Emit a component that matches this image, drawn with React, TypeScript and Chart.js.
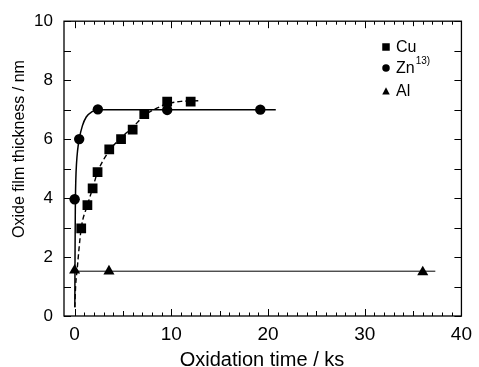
import React, { useEffect, useRef } from 'react';
import { Chart, registerables } from 'chart.js';

Chart.register(...registerables);

// Measured data (ks, nm)
const cuTime = [0.68, 1.32, 1.86, 2.37, 3.58, 4.8, 6.0, 7.2, 9.57, 12.0];
const cuThickness = [2.97, 3.76, 4.33, 4.88, 5.65, 6.0, 6.32, 6.85, 7.27, 7.27];
const znTime = [0, 0.47, 2.4, 9.57, 19.2];
const znThickness = [3.96, 6.0, 7.01, 6.99, 7.0];
const alTime = [0, 3.55, 36.0];
const alThickness = [1.55, 1.52, 1.49];

// Hand-read fitted curves
const cuFitTime = [0.02, 0.1, 0.25, 0.68, 1.32, 1.86, 2.37, 3.58, 4.8, 6.0, 7.2, 8.5, 9.6, 11.0, 12.9];
const cuFitThickness = [0.3, 1.0, 1.55, 2.97, 3.76, 4.33, 4.88, 5.6, 6.05, 6.4, 6.8, 7.05, 7.2, 7.28, 7.3];
const znFitTime = [0.02, 0.04, 0.07, 0.12, 0.2, 0.3, 0.47, 0.8, 1.2, 1.8, 2.4, 20.8];
const znFitThickness = [0.3, 2.0, 3.6, 4.6, 5.2, 5.6, 6.0, 6.45, 6.75, 6.93, 7.0, 7.0];
const alFitTime = [0, 37.3];
const alFitThickness = [1.52, 1.52];

// Axis ticks
const xTickLabels = [0, 10, 20, 30, 40];
const yTickLabels = [0, 2, 4, 6, 8, 10];
const xTickMarks = Array.from({ length: 41 }, (_, i) => i);
const yTickMarks = Array.from({ length: 11 }, (_, i) => i);

const xTitle = 'Oxidation time / ks';
const yTitle = 'Oxide film thickness / nm';
const legendNames = ['Cu', 'Zn', 'Al'];
const legendSup = ['', '13)', ''];
const legendShapes = ['rect', 'circle', 'triangle'];

const FONT = '"Liberation Sans", Arial, Helvetica, sans-serif';

const toPts = (xs: number[], ys: number[]) => xs.map((x, i) => ({ x, y: ys[i] }));

function drawShape(ctx: CanvasRenderingContext2D, shape: string, x: number, y: number, s: number) {
  ctx.beginPath();
  if (shape === 'rect') {
    ctx.rect(x - s / 2, y - s / 2, s, s);
  } else if (shape === 'circle') {
    ctx.arc(x, y, s / 2, 0, Math.PI * 2);
  } else {
    const h = s * 0.9;
    ctx.moveTo(x, y - h / 2 - 0.5);
    ctx.lineTo(x + s / 2, y + h / 2);
    ctx.lineTo(x - s / 2, y + h / 2);
    ctx.closePath();
  }
  ctx.fill();
}

const framePlugin = {
  id: 'frameTicksLegend',
  afterDraw(chart: any) {
    const { ctx, chartArea: a, scales } = chart;
    const xs = scales.x;
    const ys = scales.y;
    ctx.save();
    ctx.strokeStyle = '#000';
    ctx.fillStyle = '#000';
    ctx.lineWidth = 1.3;
    ctx.strokeRect(a.left, a.top, a.right - a.left, a.bottom - a.top);
    ctx.lineWidth = 1;
    ctx.beginPath();
    for (const v of xTickMarks) {
      const px = Math.round(xs.getPixelForValue(v)) + 0.5;
      const len = v % 10 === 0 ? 7 : v % 5 === 0 ? 5 : 3.5;
      ctx.moveTo(px, a.bottom);
      ctx.lineTo(px, a.bottom - len);
      ctx.moveTo(px, a.top);
      ctx.lineTo(px, a.top + len);
    }
    for (const v of yTickMarks) {
      const py = Math.round(ys.getPixelForValue(v)) + 0.5;
      ctx.moveTo(a.left, py);
      ctx.lineTo(a.left + 7, py);
      ctx.moveTo(a.right, py);
      ctx.lineTo(a.right - 7, py);
    }
    ctx.stroke();

    // axis titles
    ctx.font = `20px ${FONT}`;
    ctx.textAlign = 'center';
    ctx.textBaseline = 'alphabetic';
    ctx.fillText(xTitle, 262, 366);
    ctx.save();
    ctx.translate(24, 149);
    ctx.rotate(-Math.PI / 2);
    ctx.font = `16px ${FONT}`;
    ctx.fillText(yTitle, 0, 0);
    ctx.restore();

    // legend
    const ly = [47, 68, 91];
    ctx.textAlign = 'left';
    ctx.textBaseline = 'middle';
    legendNames.forEach((name, i) => {
      drawShape(ctx, legendShapes[i], 386, ly[i], 7.5);
      ctx.font = `16px ${FONT}`;
      ctx.fillText(name, 396, ly[i] + 0.5);
      if (legendSup[i]) {
        const w = ctx.measureText(name).width;
        ctx.font = `10px ${FONT}`;
        ctx.fillText(legendSup[i], 396 + w + 1, ly[i] - 6.5);
      }
    });
    ctx.restore();
  },
};

export default function App() {
  const ref = useRef<HTMLCanvasElement>(null);
  useEffect(() => {
    if (!ref.current) return;
    const chart = new Chart(ref.current, {
      type: 'scatter',
      data: {
        datasets: [
          {
            label: 'Zn fit',
            data: toPts(znFitTime, znFitThickness),
            showLine: true,
            borderColor: '#000',
            borderWidth: 1.5,
            pointRadius: 0,
            cubicInterpolationMode: 'monotone',
          },
          {
            label: 'Cu fit',
            data: toPts(cuFitTime, cuFitThickness),
            showLine: true,
            borderColor: '#000',
            borderWidth: 1.4,
            borderDash: [5, 3],
            pointRadius: 0,
            cubicInterpolationMode: 'monotone',
          },
          {
            label: 'Al fit',
            data: toPts(alFitTime, alFitThickness),
            showLine: true,
            borderColor: '#000',
            borderWidth: 1,
            pointRadius: 0,
          },
          {
            label: 'Cu',
            data: toPts(cuTime, cuThickness),
            pointStyle: 'rect',
            pointRadius: 6.9,
            backgroundColor: '#000',
            borderColor: '#000',
            borderWidth: 0,
          },
          {
            label: 'Zn',
            data: toPts(znTime, znThickness),
            pointStyle: 'circle',
            pointRadius: 5.2,
            backgroundColor: '#000',
            borderColor: '#000',
            borderWidth: 0,
          },
          {
            label: 'Al',
            data: toPts(alTime, alThickness),
            pointStyle: 'triangle',
            pointRadius: 6.4,
            backgroundColor: '#000',
            borderColor: '#000',
            borderWidth: 0,
          },
        ],
      },
      options: {
        animation: false,
        responsive: false,
        maintainAspectRatio: false,
        layout: { padding: { top: 19, right: 10, left: 0, bottom: 0 } },
        plugins: { legend: { display: false }, tooltip: { enabled: false } },
        scales: {
          x: {
            type: 'linear',
            min: -1.1,
            max: 40,
            afterBuildTicks: (s: any) => {
              s.ticks = xTickLabels.map((v) => ({ value: v }));
            },
            afterFit: (s: any) => {
              s.height = 51;
            },
            grid: { display: false, drawTicks: false },
            border: { display: false },
            ticks: {
              color: '#000',
              font: { family: FONT, size: 19 },
              padding: 7,
              maxRotation: 0,
              autoSkip: false,
            },
          },
          y: {
            type: 'linear',
            min: 0,
            max: 10,
            afterBuildTicks: (s: any) => {
              s.ticks = yTickLabels.map((v) => ({ value: v }));
            },
            afterFit: (s: any) => {
              s.width = 64;
            },
            grid: { display: false, drawTicks: false },
            border: { display: false },
            ticks: {
              color: '#000',
              font: { family: FONT, size: 17 },
              padding: 11,
              autoSkip: false,
            },
          },
        },
      },
      plugins: [framePlugin],
    } as any);
    return () => chart.destroy();
  }, []);
  return (
    <div style={{ position: 'fixed', left: 0, top: 0, width: 479, height: 367, background: '#fff' }}>
      <canvas ref={ref} width={479} height={367} style={{ width: 479, height: 367, display: 'block' }} />
    </div>
  );
}
